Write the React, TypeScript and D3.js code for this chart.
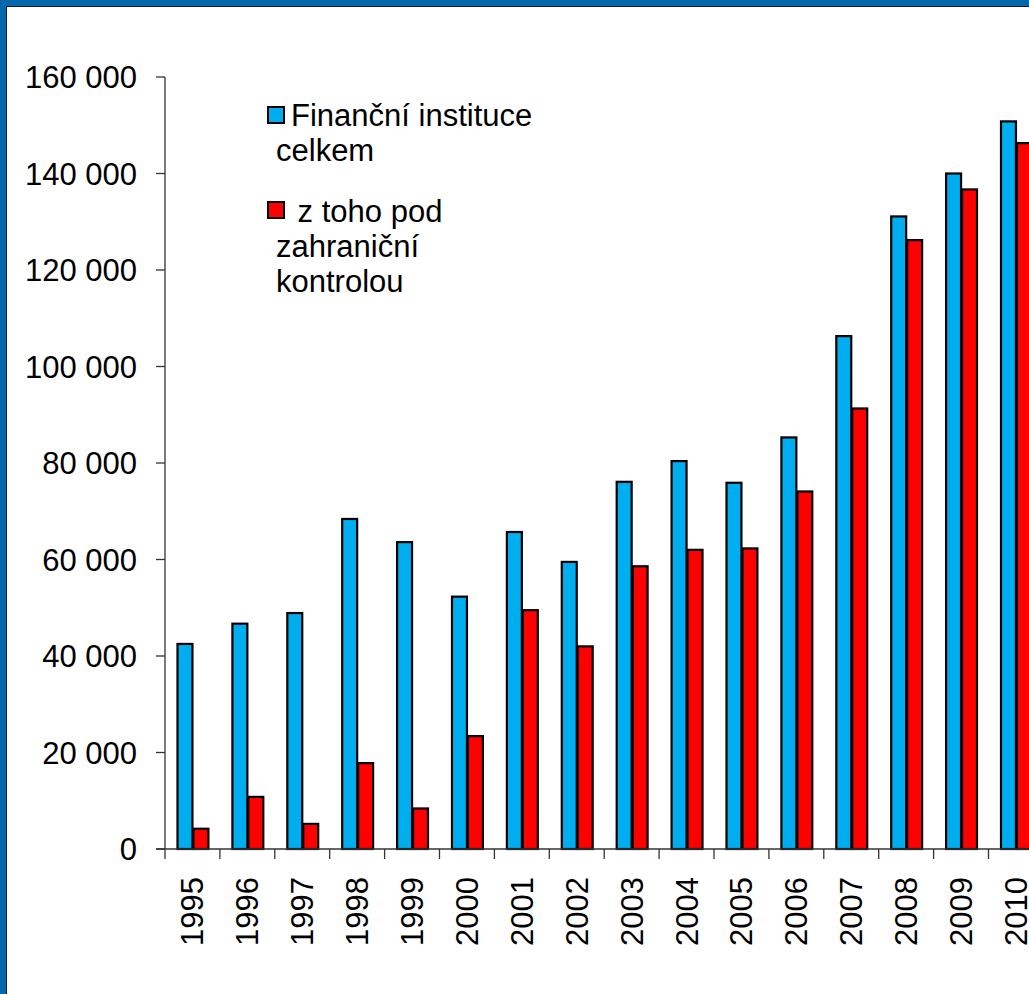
import React from "react";
import * as d3 from "d3";

const years = ["1995","1996","1997","1998","1999","2000","2001","2002","2003","2004","2005","2006","2007","2008","2009","2010"];
const totalValues = [42500,46700,48900,68400,63600,52300,65700,59500,76100,80400,75900,85300,106300,131100,140000,150800];
const foreignValues = [4200,10800,5200,17800,8400,23400,49500,42000,58600,62000,62300,74100,91300,126200,136700,146300];
const yTicks = [0,20000,40000,60000,80000,100000,120000,140000,160000];
const seriesKeys = ["total","foreign"];
const seriesColors = ["#00AEEF","#FF0000"];
const legendLines = [["Finanční instituce","celkem"],[" z toho pod","zahraniční","kontrolou"]];

const W = 1029, H = 994;
const FONT = "'Liberation Sans', Arial, sans-serif";
const FS = 31;

export default function App() {
  const x0 = d3.scaleBand<string>().domain(years).range([165, 165 + 16 * 54.9]).padding(0);
  const bw = x0.bandwidth();
  const x1 = d3.scaleBand<string>().domain(seriesKeys).range([11.5, bw - 11.5]).padding(0);
  const y = d3.scaleLinear().domain([0, 160000]).range([849, 77]);
  const fmt = (v: number) => d3.format(",")(v).replace(/,/g, " ");
  const data = [totalValues, foreignValues];

  return (
    <svg width={W} height={H} style={{ position: "absolute", left: 0, top: 0, display: "block" }} fontFamily={FONT}>
      <rect x={0} y={0} width={W} height={H} fill="#0467AC" />
      <rect x={6.5} y={6.5} width={W + 10} height={H + 10} fill="#FFFFFF" stroke="#1a1a1a" strokeWidth={1} />

      {/* bars */}
      {years.map((yr, i) => (
        <g key={yr}>
          {seriesKeys.map((k, s) => {
            const v = data[s][i];
            const bx = (x0(yr) as number) + (x1(k) as number);
            return (
              <rect key={k} x={bx + 1} y={y(v)} width={x1.bandwidth() - 1} height={y(0) - y(v)}
                fill={seriesColors[s]} stroke="#000" strokeWidth={2.2} />
            );
          })}
        </g>
      ))}

      {/* y axis */}
      <line x1={165} x2={165} y1={y(160000)} y2={859} stroke="#333" strokeWidth={1.3} />
      {yTicks.map((t) => (
        <g key={t}>
          <line x1={156} x2={165} y1={y(t)} y2={y(t)} stroke="#333" strokeWidth={1.3} />
          <text x={137} y={y(t)} dy="0.36em" textAnchor="end" fontSize={FS} fill="#000">{fmt(t)}</text>
        </g>
      ))}

      {/* x axis */}
      <line x1={156} x2={W} y1={y(0)} y2={y(0)} stroke="#333" strokeWidth={1.3} />
      {years.map((yr) => (
        <line key={"t" + yr} x1={(x0(yr) as number) + bw} x2={(x0(yr) as number) + bw} y1={y(0)} y2={859} stroke="#333" strokeWidth={1.3} />
      ))}
      {years.map((yr) => {
        const cx = (x0(yr) as number) + bw / 2;
        return (
          <text key={"l" + yr} transform={`translate(${cx + 11},${877}) rotate(-90)`} textAnchor="end" fontSize={FS} fill="#000">{yr}</text>
        );
      })}

      {/* legend */}
      <rect x={268} y={107} width={16} height={16} fill={seriesColors[0]} stroke="#000" strokeWidth={2} />
      <text x={291} y={126} fontSize={FS} fill="#000">{legendLines[0][0]}</text>
      <text x={276} y={161} fontSize={FS} fill="#000">{legendLines[0][1]}</text>
      <rect x={268} y={202} width={16} height={16} fill={seriesColors[1]} stroke="#000" strokeWidth={2} />
      <text x={289} y={222} fontSize={FS} fill="#000" style={{ whiteSpace: "pre" }}>{legendLines[1][0]}</text>
      <text x={276} y={257} fontSize={FS} fill="#000">{legendLines[1][1]}</text>
      <text x={276} y={292} fontSize={FS} fill="#000">{legendLines[1][2]}</text>
    </svg>
  );
}
